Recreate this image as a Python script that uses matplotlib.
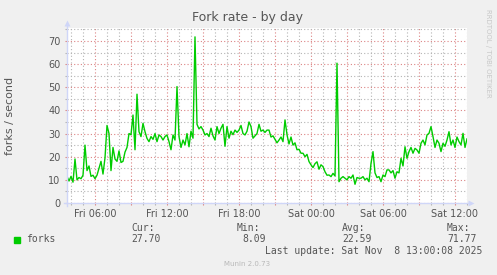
import pandas as pd
import matplotlib
matplotlib.use("Agg")
import matplotlib.pyplot as plt
import matplotlib.dates as mdates
from matplotlib.ticker import MultipleLocator, FuncFormatter
from matplotlib.patches import Rectangle

# fork rate, one sample every 10 minutes, Fri 03:40 .. Sat 13:00
forks = [
    11.5, 9.5, 11.5, 9.0, 19.0, 10.0, 11.0, 10.5, 12.0, 25.0,
    14.0, 16.0, 11.5, 12.0, 10.5, 12.0, 15.0, 18.0, 12.5, 19.5,
    33.5, 30.0, 14.0, 24.0, 19.0, 18.0, 22.5, 17.5, 18.0, 22.0,
    24.0, 30.0, 29.5, 38.0, 23.0, 47.0, 30.8, 28.7, 34.4, 30.8,
    27.9, 26.5, 28.7, 27.5, 30.0, 26.5, 29.4, 28.7, 27.2, 28.7,
    29.4, 26.5, 23.0, 29.4, 27.2, 50.3, 28.7, 24.0, 27.2, 25.1,
    30.0, 24.3, 31.0, 28.0, 71.77, 34.0, 32.0, 33.0, 31.5, 29.4,
    30.0, 28.7, 32.3, 29.0, 27.2, 33.0, 30.0, 32.3, 34.0, 24.5,
    33.0, 28.0, 31.0, 29.5, 31.5, 30.5, 31.5, 33.5, 30.0, 29.4,
    31.0, 35.0, 33.0, 28.0, 29.0, 30.0, 34.0, 31.0, 31.5, 30.5,
    31.5, 31.5, 28.5, 29.0, 27.5, 26.0, 27.2, 28.5, 26.5, 35.9,
    29.5, 25.5, 28.5, 25.0, 26.0, 23.0, 23.2, 21.5, 21.5, 20.0,
    21.0, 17.9, 16.5, 15.3, 17.0, 17.8, 14.6, 16.5, 15.7, 13.5,
    12.0, 12.1, 11.4, 12.8, 11.7, 60.4, 9.2, 10.7, 11.4, 10.7,
    10.0, 11.4, 10.7, 12.1, 8.09, 11.0, 10.7, 10.7, 11.4, 10.0,
    10.7, 9.2, 17.1, 22.2, 13.0, 11.0, 11.4, 9.2, 12.1, 11.4,
    14.3, 14.3, 13.0, 14.0, 10.7, 13.5, 13.0, 19.3, 16.0, 24.3,
    19.3, 22.2, 24.0, 21.5, 23.6, 22.9, 21.5, 25.8, 27.2, 25.1,
    29.4, 30.1, 33.0, 28.7, 24.0, 27.2, 25.8, 22.2, 25.8, 24.5,
    27.2, 30.8, 25.1, 27.2, 24.0, 28.5, 26.5, 25.1, 30.1, 24.0,
    27.7,
]
start = pd.Timestamp("2025-11-07 03:40")
times = pd.date_range(start, periods=len(forks), freq="10min")

stat_names = ["Cur:", "Min:", "Avg:", "Max:"]
stat_values = ["27.70", "8.09", "22.59", "71.77"]
last_update = "Last update: Sat Nov  8 13:00:08 2025"

W, H = 497, 275
FONT = "#555555"


def fx(x):
    return x / W


def fy(y):
    return 1 - y / H


fig = plt.figure(figsize=(W / 100, H / 100), dpi=100, facecolor="#F0F0F0")
ax = fig.add_axes([fx(67), fy(203), 400 / W, 175 / H])
ax.set_facecolor("white")

ax.plot(times, forks, color="#00CC00", lw=1.0, zorder=3)

ax.set_xlim(times[0], times[-1])
ax.set_ylim(0, 75.6)

ax.xaxis.set_major_locator(mdates.HourLocator(byhour=range(0, 24, 3)))
ax.xaxis.set_minor_locator(mdates.HourLocator())


def fmt_time(x, pos):
    d = mdates.num2date(x)
    return d.strftime("%a %H:%M") if d.hour % 6 == 0 else ""


ax.xaxis.set_major_formatter(FuncFormatter(fmt_time))
ax.yaxis.set_major_locator(MultipleLocator(10))
ax.yaxis.set_minor_locator(MultipleLocator(5))

dots = (0, (1, 2))
grid_minor = "#b4b4b4"
grid_major = "#dc8484"
ax.grid(which="minor", color=grid_minor, linestyle=dots, lw=0.8)
ax.grid(which="major", color=grid_major, linestyle=dots, lw=0.8)
ax.set_axisbelow(True)

ax.tick_params(which="major", length=1.6, width=0.8, color=grid_major,
               labelsize=7, labelcolor=FONT)
ax.tick_params(which="minor", length=1.6, width=0.8, color=grid_minor)
ax.tick_params(axis="x", which="major", pad=2.5)
ax.tick_params(axis="y", which="major", pad=3)

for s in ax.spines.values():
    s.set_visible(False)

# axis lines with arrows
axis_col = "#CFD6F8"
ax.plot([0, 0], [-3 / 175, 1 + 3 / 175], color=axis_col, lw=1,
        transform=ax.transAxes, clip_on=False, zorder=4)
ax.plot([-3 / 400, 1 + 3 / 400], [0, 0], color=axis_col, lw=1,
        transform=ax.transAxes, clip_on=False, zorder=4)
ax.plot([0], [1 + 5 / 175], marker="^", ms=4.5, color=axis_col, mec="none",
        transform=ax.transAxes, clip_on=False, zorder=4)
ax.plot([1 + 4 / 400], [0], marker=">", ms=4.5, color=axis_col, mec="none",
        transform=ax.transAxes, clip_on=False, zorder=4)

fig.text(fx(248), fy(18), "Fork rate - by day", fontsize=9, color=FONT,
         ha="center", va="center")
fig.text(fx(10.5), fy(115.5), "forks / second", fontsize=8, color=FONT,
         rotation=90, ha="center", va="center")
fig.text(fx(488), fy(53), "RRDTOOL / TOBI OETIKER", fontsize=5,
         color="#c8c8c8", rotation=270, ha="center", va="center")

mono = "DejaVu Sans Mono"
fig.patches.append(Rectangle((fx(14), fy(243)), 6 / W, 6 / H,
                             transform=fig.transFigure, color="#00CC00"))
fig.text(fx(26.5), fy(239.5), "forks", family=mono, fontsize=7, color=FONT,
         va="center")
for i, (name, val) in enumerate(zip(stat_names, stat_values)):
    x0 = 131.5 + i * 105.2
    fig.text(fx(x0), fy(228), name, family=mono, fontsize=7, color=FONT,
             va="center")
    fig.text(fx(x0 + 29.5), fy(239.5), val, family=mono, fontsize=7,
             color=FONT, va="center", ha="right")
fig.text(fx(482), fy(251), last_update, family=mono, fontsize=7, color=FONT,
         va="center", ha="right")
fig.text(fx(247.5), fy(264), "Munin 2.0.73", fontsize=5, color="#b8b8b8",
         ha="center", va="center")

fig.savefig("out.png", dpi=100, facecolor=fig.get_facecolor())
